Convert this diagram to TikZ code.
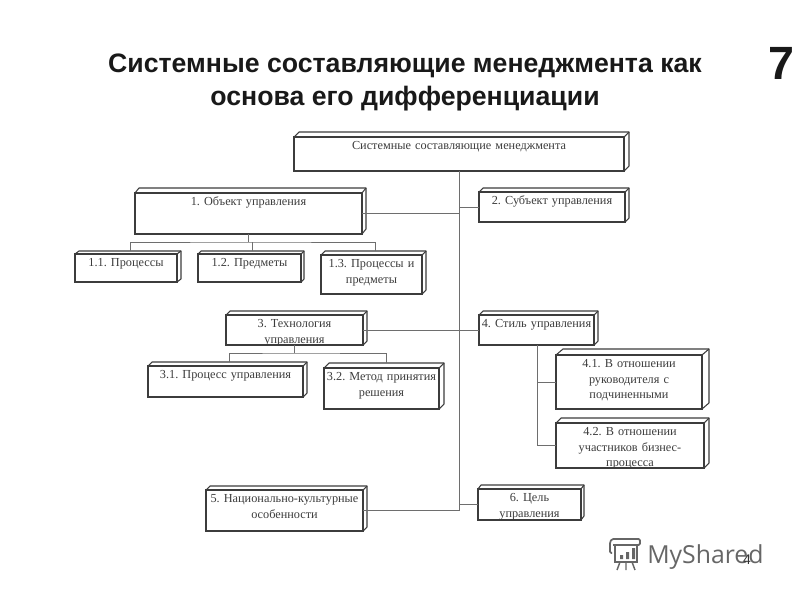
\documentclass[tikz,border=0pt]{standalone}
\usepackage{fontspec}
\setmainfont{Liberation Serif}
\newfontfamily\titlefont{Liberation Sans}
\newfontfamily\logofont{Open Sans}
\usetikzlibrary{calc}
\definecolor{slabink}{HTML}{3C3C3C}
\definecolor{linkink}{HTML}{6E6E6E}
\definecolor{logoink}{HTML}{666666}
\frenchspacing
\tikzset{
	slabface/.style={draw=slabink, line width=0.9pt, anchor=north west, outer sep=0pt, inner xsep=0pt, inner ysep=2.25pt, text height=7pt, align=center, text=slabink, font=\fontsize{9.2}{11.8}\selectfont},
	slabedge/.style={draw=slabink, line width=0.8pt, line join=round},
	link/.style={draw=linkink, line width=0.75pt},
	headline/.style={font=\titlefont\bfseries\fontsize{20}{24.8}\selectfont, text=black!90, align=center, inner sep=0pt}
}
\def\slab(#1)(#2,#3)(#4,#5)(#6,#7)#8{
	\node[slabface, text width={(#4-#2)*0.75pt}, minimum height={(#5-#3)*0.75pt}, text depth={(#5-#3)*0.75pt-11.5pt}] (#1) at (#2,#3) {#8};
	\draw[slabedge] (#1.north west) -- ++(#6,-#7) -- ($(#1.north east)+(#6,-#7)$) -- ($(#1.south east)+(#6,-#7)$) -- (#1.south east);
	\draw[slabedge] (#1.north east) -- ++(#6,-#7);
	\coordinate (#1top) at ($(#1.north)+(#6,-#7)$);
}

\begin{document}
\begin{tikzpicture}[x=0.75pt, y=-0.75pt]
	\useasboundingbox (0,0) rectangle (800,600);
	%%%%% TITLE %%%%%
	\node[headline] (title) at (405,82) {Системные составляющие менеджмента как\\основа его дифференциации};
	\node[font=\titlefont\bfseries\fontsize{35}{35}\selectfont, text=black!90, inner sep=0pt] (slideno) at (781,63) {7};

	%%%%% BOXES %%%%%
	\slab(sys)(294,137)(624,171)(5,5){Системные составляющие менеджмента}
	\slab(obj)(135,193)(362,234)(4,5){1. Объект управления}
	\slab(objproc)(75,254)(177,282)(4,3){1.1. Процессы}
	\slab(objitem)(198,254)(301,282)(3,3){1.2. Предметы}
	\slab(objboth)(321,255)(422,294)(4,4){1.3. Процессы и\\предметы}
	\slab(subj)(479,192)(625,222)(4,4){2. Субъект управления}
	\slab(tech)(226,315)(363,345)(4,4){3. Технология\\управления}
	\slab(techproc)(148,366)(303,397)(4,4){3.1. Процесс управления}
	\slab(techway)(324,368)(439,409)(5,5){3.2. Метод принятия\\решения}
	\slab(style)(479,315)(594,345)(4,4){4. Стиль управления}
	\slab(stylelead)(556,355)(702,409)(7,6){4.1. В отношении\\руководителя с\\подчиненными}
	\slab(stylebiz)(556,423)(704,468)(5,5){4.2. В отношении\\участников бизнес-\\процесса}
	\slab(culture)(206,490)(363,531)(4,4){5. Национально-культурные\\особенности}
	\slab(goal)(478,489)(581,520)(3,4){6. Цель\\управления}

	%%%%% LINKS %%%%%
	\coordinate (trunk) at (459,0);
	\draw[link] (sys.south -| trunk) -- (culture.east -| trunk) -- (culture.east);
	\draw[link] (obj.east) -- (obj.east -| trunk);
	\draw[link] (subj.west) -- (subj.west -| trunk);
	\draw[link] (tech.east) -- (tech.east -| trunk);
	\draw[link] (style.west) -- (style.west -| trunk);
	\draw[link] (goal.west) -- (goal.west -| trunk);

	\coordinate (objfork) at ($(obj.south)+(0,8)$);
	\draw[link] (obj.south) -- (objfork);
	\draw[link] (objproctop) |- (objfork) -| (objbothtop);
	\draw[link] (objfork -| objitemtop) -- (objitemtop);

	\coordinate (techfork) at ($(tech.south)+(0,8)$);
	\draw[link] (tech.south) -- (techfork);
	\draw[link] (techproctop) |- (techfork) -| (techwaytop);

	\coordinate (stylefork) at (537,345);
	\draw[link] (stylefork) |- (stylebiz.west);
	\draw[link] (stylefork |- stylelead.west) -- (stylelead.west);

	%%%%% LOGO %%%%%
	\draw[logoink, line width=1.3pt, rounded corners=1pt] (612,553) -- (610,553) -- (610,542) -- (612,539) -- (640,539) -- (640,545) -- (613,545);
	\draw[logoink, line width=1.3pt] (615,545) rectangle (637,562);
	\fill[logoink] (620,555) rectangle (623,559) (626,552) rectangle (629,559) (632,548) rectangle (635,559);
	\draw[logoink, line width=1.1pt] (626,562) -- (626,570) (620,562) -- (617,570) (632,562) -- (635,570);
	\node[font=\logofont\fontsize{18.6}{18.6}\selectfont, text=logoink, inner sep=0pt, anchor=base west] (logo) at (647,563) {MyShared};
	\node[font=\titlefont\fontsize{10.5}{10.5}\selectfont, text=black!80, inner sep=0pt] (pageno) at (747,560) {4};
\end{tikzpicture}
\end{document}
